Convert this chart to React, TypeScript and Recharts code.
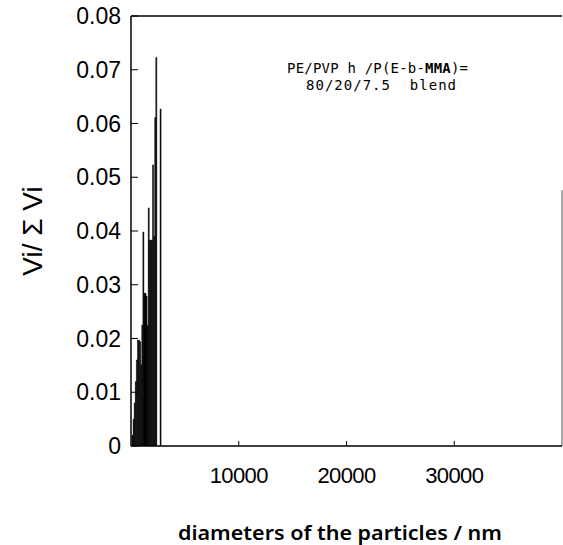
import React from 'react';
import { BarChart, Bar, XAxis, YAxis, ReferenceLine } from 'recharts';

const diameters = [150, 250, 350, 450, 550, 650, 750, 850, 950, 1050, 1150, 1250, 1350, 1450, 1550, 1650, 1750, 1850, 1950, 2050, 2150, 2250, 2350, 2450, 2550, 2650, 2750];
const volumeFractions = [0.002, 0.005, 0.008, 0.012, 0.016, 0.0197, 0.0197, 0.0194, 0.0151, 0.0225, 0.0398, 0.0284, 0.0284, 0.0279, 0.0224, 0.0443, 0.0383, 0.0383, 0.0383, 0.0523, 0.039, 0.0611, 0.0723, 0, 0, 0, 0.0627];
const yTicks = [0, 0.01, 0.02, 0.03, 0.04, 0.05, 0.06, 0.07, 0.08];
const xTicks = [10000, 20000, 30000];
const yTickLabels = ['0', '0.01', '0.02', '0.03', '0.04', '0.05', '0.06', '0.07', '0.08'];
const xTickLabels = ['10000', '20000', '30000'];

const data = diameters.map((d, i) => ({ d, v: volumeFractions[i] }));

const Y_MARGIN = 10;
const X_MARGIN = 21;

const YTick = (props: any) => {
  const { x, y, payload } = props;
  const ax = x + Y_MARGIN;
  const label = yTickLabels[yTicks.indexOf(payload.value)] ?? String(payload.value);
  return (
    <g>
      <line x1={ax} x2={ax + 7} y1={y} y2={y} stroke="#000" strokeWidth={1} />
      <text x={x} y={y} textAnchor="end" dominantBaseline="central" fontFamily="'Liberation Sans', Arial, sans-serif" fontSize={23} fill="#000">
        {label}
      </text>
    </g>
  );
};

const XTick = (props: any) => {
  const { x, y, payload } = props;
  const ay = y - X_MARGIN;
  const label = xTickLabels[xTicks.indexOf(payload.value)] ?? String(payload.value);
  return (
    <g>
      <line x1={x} x2={x} y1={ay} y2={ay - 5} stroke="#000" strokeWidth={1} />
      <text x={x} y={y} dy="0.71em" textAnchor="middle" fontFamily="'Liberation Sans', Arial, sans-serif" fontSize={22} letterSpacing={-0.6} fill="#000">
        {label}
      </text>
    </g>
  );
};

export default function App() {
  return (
    <div style={{ position: 'absolute', left: 0, top: 0, width: 563, height: 545, background: '#fff' }}>
      <BarChart
        width={563}
        height={545}
        data={data}
        margin={{ top: 16, right: 1, bottom: 0, left: 0 }}
        barCategoryGap="0%"
        barGap={0}
      >
        <XAxis
          dataKey="d"
          type="number"
          domain={[0, 40000]}
          ticks={xTicks}
          tickSize={0}
          tickMargin={X_MARGIN}
          tick={<XTick />}
          height={99}
          axisLine={{ stroke: '#000', strokeWidth: 1.5 }}
          allowDataOverflow
        />
        <YAxis
          type="number"
          domain={[0, 0.08]}
          ticks={yTicks}
          tickSize={0}
          tickMargin={Y_MARGIN}
          tick={<YTick />}
          width={131}
          axisLine={{ stroke: '#000', strokeWidth: 1.5 }}
          allowDataOverflow
        />
        <ReferenceLine y={0.08} stroke="#000" strokeWidth={1.5} ifOverflow="visible" />
        <ReferenceLine
          segment={[{ x: 40000, y: 0 }, { x: 40000, y: 0.0476 }]}
          stroke="#555"
          strokeWidth={1}
          ifOverflow="visible"
        />
        <Bar dataKey="v" fill="#000" stroke="#000" strokeWidth={0.5} isAnimationActive={false} />
      </BarChart>
      <svg width={563} height={545} style={{ position: 'absolute', left: 0, top: 0, pointerEvents: 'none' }}>
        <text x={287} y={73} fontFamily="'DejaVu Sans Mono', monospace" fontSize={14} fill="#000" textLength={181} lengthAdjust="spacing">
          PE/PVP h /P(E-b-<tspan fontWeight="bold">MMA</tspan>)=
        </text>
        <text x={306} y={90} fontFamily="'DejaVu Sans Mono', monospace" fontSize={14} fill="#000" textLength={150} lengthAdjust="spacing" xmlSpace="preserve">
          80/20/7.5  blend
        </text>
        <text x={340} y={540} textAnchor="middle" fontFamily="'Noto Sans', sans-serif" fontWeight={600} fontSize={20} fill="#000" textLength={324} lengthAdjust="spacingAndGlyphs">
          diameters of the particles / nm
        </text>
        <text x={0} y={0} transform="translate(42,231) rotate(-90)" textAnchor="middle" fontFamily="'Liberation Sans', Arial, sans-serif" fontSize={28} fill="#000">
          Vi/ Σ Vi
        </text>
      </svg>
    </div>
  );
}
